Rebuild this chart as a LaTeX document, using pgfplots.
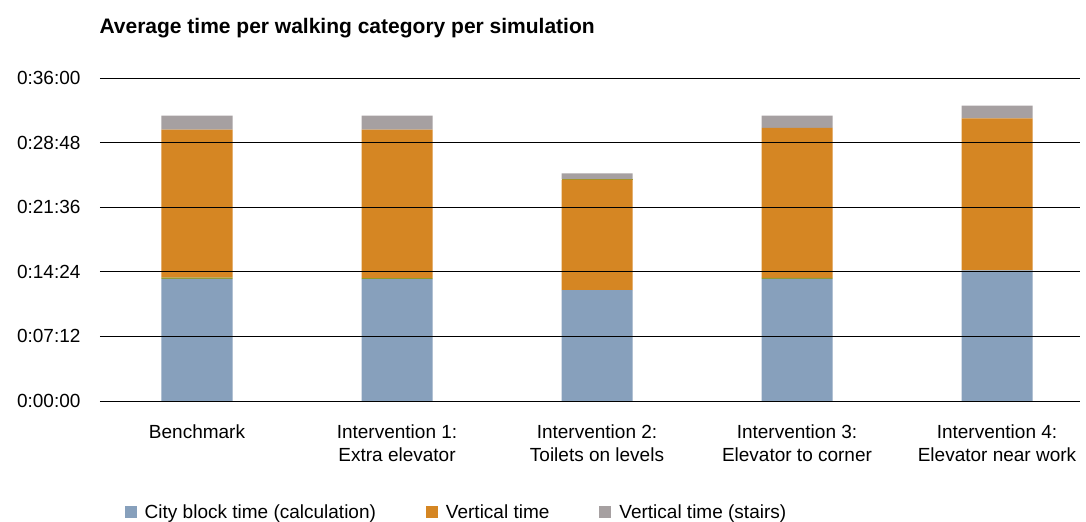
\documentclass[border=0pt]{standalone}
\usepackage{fontspec}
\setmainfont{Liberation Sans}
\usepackage{pgfplots}
\pgfplotsset{compat=1.18}
\definecolor{cblue}{HTML}{87A0BC}
\definecolor{corange}{HTML}{D58623}
\definecolor{cgrey}{HTML}{A6A0A1}
\definecolor{cgreen}{HTML}{8E9B2B}
\begin{document}
\begin{tikzpicture}
\path[use as bounding box] (-100bp,-121bp) rectangle (986bp,401bp);
\node[anchor=west, font=\fontsize{21bp}{24bp}\selectfont\bfseries] at (-4bp,373bp) {Average time per walking category per simulation};
\begin{axis}[
  at={(0,0)}, anchor=south west,
  scale only axis, width=980bp, height=323bp,
  ybar stacked, bar width=71bp,
  xmin=-0.485, xmax=4.415,
  ymin=0, ymax=36,
  xtick={0,1,2,3,4},
  xticklabels={Benchmark, {Intervention 1:\\Extra elevator}, {Intervention 2:\\Toilets on levels}, {Intervention 3:\\Elevator to corner}, {Intervention 4:\\Elevator near work}},
  xticklabel style={align=center, font=\fontsize{19bp}{23bp}\selectfont, yshift=-20bp},
  ytick={0,7.2,14.4,21.6,28.8,36},
  yticklabels={0:00:00,0:07:12,0:14:24,0:21:36,0:28:48,0:36:00},
  yticklabel style={font=\fontsize{19bp}{22bp}\selectfont, xshift=-16bp},
  major tick length=0pt,
  axis line style={draw=none},
  ymajorgrids, grid style={black, line width=0.9pt},
  axis on top,
  legend style={draw=none, legend columns=3, at={(0.022,-0.344)}, anchor=west,
    font=\fontsize{19bp}{22bp}\selectfont,
    /tikz/every odd column/.append style={column sep=6bp},
    /tikz/every even column/.append style={column sep=48bp}},
  legend image code/.code={\fill[#1,draw=none] (0bp,-6bp) rectangle (12bp,6bp);},
]
\addplot[fill=cblue, draw=none] coordinates {(0,13.62) (1,13.57) (2,12.35) (3,13.60) (4,14.57)};
\addlegendentry{City block time (calculation)}
\addplot[fill=cgreen, draw=none, forget plot] coordinates {(0,0.12) (1,0.12) (2,0) (3,0.12) (4,0)};
\addplot[fill=corange, draw=none] coordinates {(0,16.51) (1,16.57) (2,12.32) (3,16.72) (4,16.94)};
\addlegendentry{Vertical time}
\addplot[fill=cgreen, draw=none, forget plot] coordinates {(0,0) (1,0) (2,0.10) (3,0) (4,0)};
\addplot[fill=cgrey, draw=none] coordinates {(0,1.56) (1,1.55) (2,0.59) (3,1.37) (4,1.42)};
\addlegendentry{Vertical time (stairs)}
\end{axis}
\end{tikzpicture}
\end{document}
